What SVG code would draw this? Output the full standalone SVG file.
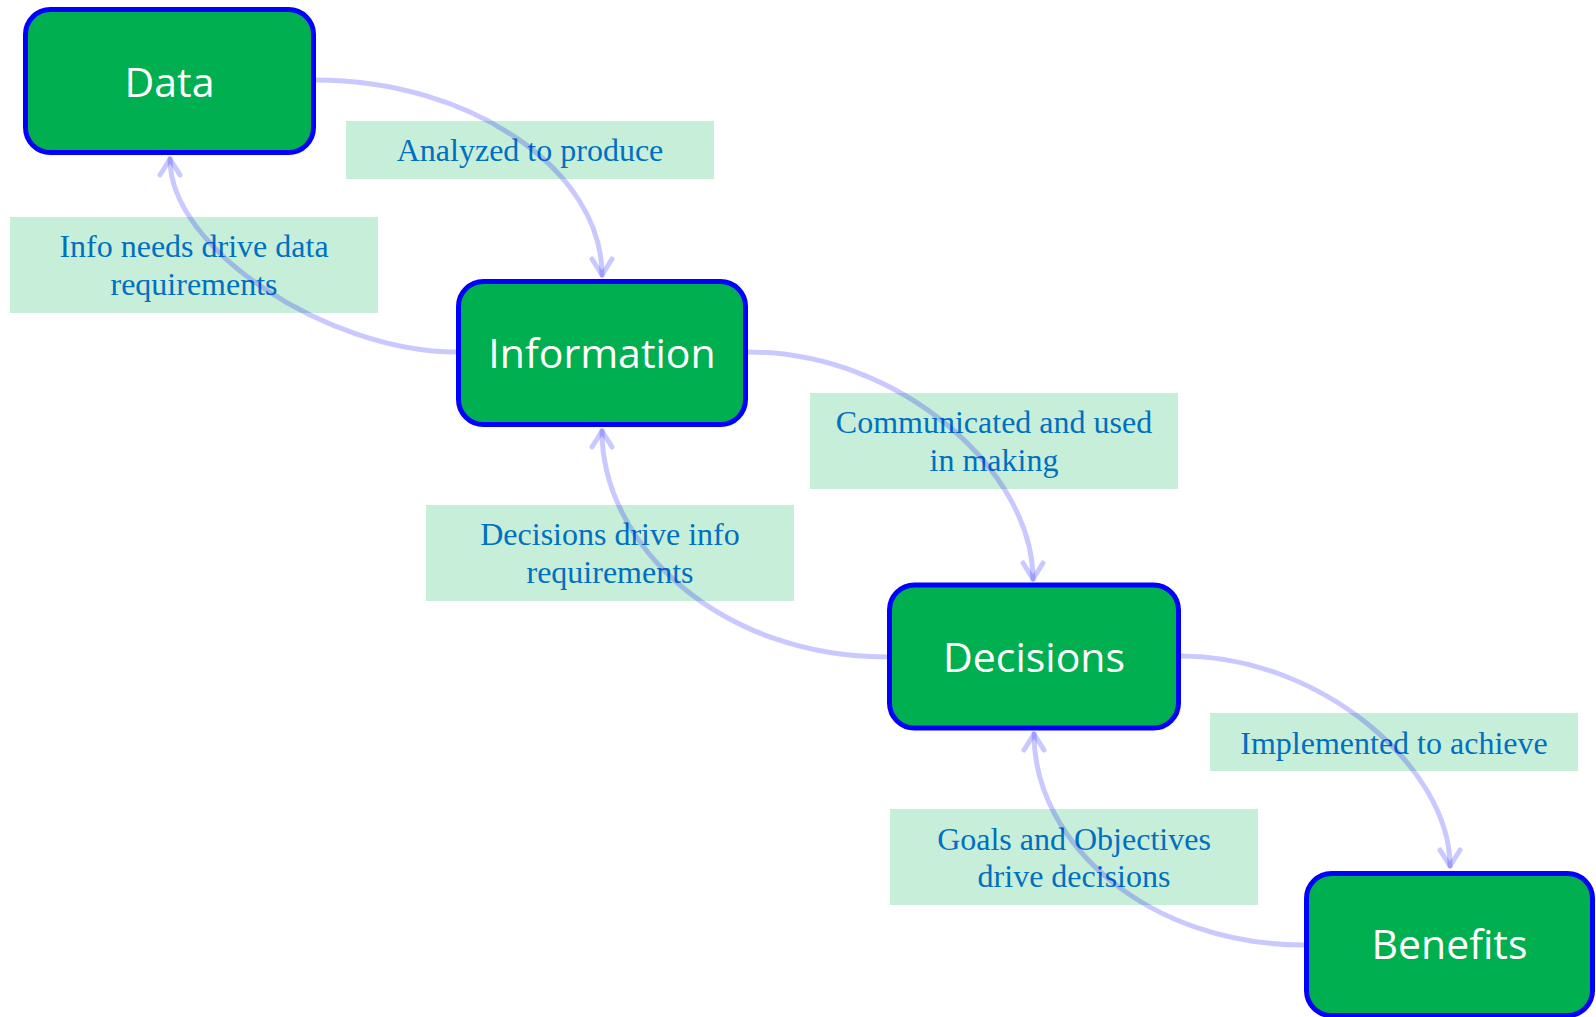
<svg xmlns="http://www.w3.org/2000/svg" width="1596" height="1017" viewBox="0 0 1596 1017">
<style>
.node rect{fill:#00b050;stroke:#0000ff;stroke-width:5}
.node text{fill:#ffffff;font-family:"Open Sans","Noto Sans",sans-serif;font-size:41px;text-anchor:middle}
.lbl rect{fill:#c7eed9}
.lbl text{fill:#0070c0;font-family:"Liberation Serif","Times New Roman",serif;font-size:32px;text-anchor:middle}
.edge{fill:none;stroke:#0000ff;stroke-opacity:0.21;stroke-width:5;stroke-linecap:round;marker-end:url(#arr)}
</style>
<defs>
<marker id="arr" markerUnits="userSpaceOnUse" markerWidth="40" markerHeight="40" viewBox="-20 -20 40 40" refX="0" refY="0" orient="auto">
<path d="M-16,-10 L0,0 L-16,10" fill="none" stroke="#0000ff" stroke-opacity="0.21" stroke-width="5" stroke-linecap="round" stroke-linejoin="round"/>
</marker>
</defs>
<rect width="1596" height="1017" fill="#ffffff"/>
<g id="labels">
<g id="lbl-analyzed" class="lbl"><rect x="346" y="121" width="368" height="58"/><text x="530" y="161">Analyzed to produce</text></g>
<g id="lbl-infoneeds" class="lbl"><rect x="10" y="217" width="368" height="96"/><text x="194" y="257">Info needs drive data</text><text x="194" y="295">requirements</text></g>
<g id="lbl-communicated" class="lbl"><rect x="810" y="393" width="368" height="96"/><text x="994" y="433">Communicated and used</text><text x="994" y="471">in making</text></g>
<g id="lbl-decisionsdrive" class="lbl"><rect x="426" y="505" width="368" height="96"/><text x="610" y="545">Decisions drive info</text><text x="610" y="583">requirements</text></g>
<g id="lbl-implemented" class="lbl"><rect x="1210" y="713" width="368" height="58"/><text x="1394" y="754">Implemented to achieve</text></g>
<g id="lbl-goals" class="lbl"><rect x="890" y="809" width="368" height="96"/><text x="1074" y="850">Goals and Objectives</text><text x="1074" y="887">drive decisions</text></g>
</g>
<g id="connectors">
<path class="edge" d="M316,80 C470,80 602,170 602,275"/>
<path class="edge" d="M456,352 C330,352 170,250 170,159"/>
<path class="edge" d="M748,352 C902,352 1033,473 1033,579"/>
<path class="edge" d="M887,657 C720,657 602,545 602,431"/>
<path class="edge" d="M1181,656 C1321,656 1450,768 1450,866"/>
<path class="edge" d="M1304,945 C1150,945 1034,845 1034,734"/>
</g>
<g id="node-data" class="node"><rect x="25.5" y="9.5" width="288" height="143" rx="25"/><text x="169.5" y="97">Data</text></g>
<g id="node-information" class="node"><rect x="458.5" y="281.5" width="287" height="143" rx="25"/><text x="602" y="368">Information</text></g>
<g id="node-decisions" class="node"><rect x="889.5" y="585" width="289" height="143" rx="25"/><text x="1034" y="672">Decisions</text></g>
<g id="node-benefits" class="node"><rect x="1306.5" y="873.5" width="286" height="142" rx="25"/><text x="1449.5" y="959">Benefits</text></g>
</svg>
